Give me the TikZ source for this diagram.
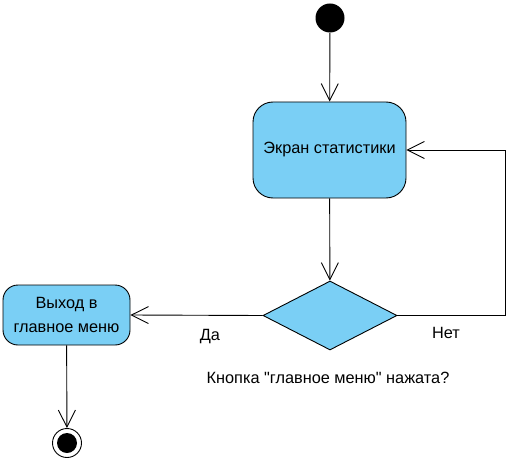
\documentclass[tikz,border=0pt]{standalone}
\usepackage{fontspec}
\setmainfont[Ligatures=TeXOff]{Liberation Sans}
\usetikzlibrary{shapes.geometric,arrows.meta}
\definecolor{stfill}{RGB}{122,207,245}
\begin{document}
\begin{tikzpicture}[x=1pt,y=-1pt,
  every node/.style={font=\fontsize{16.3}{24}\selectfont},
  arr/.style={draw, line width=0.9pt, -{Straight Barb[length=17pt,width=17pt,line width=0.9pt]}},
  statebox/.style={draw, line width=0.9pt, fill=stfill, rounded corners=20pt, align=center, inner sep=0pt},
  decision/.style={draw, line width=0.9pt, fill=stfill, diamond, inner sep=0pt, minimum width=134pt, minimum height=69pt},
  lbl/.style={inner sep=0pt}
]
\useasboundingbox (0,0) rectangle (510,465);
\node[circle, fill=black, minimum size=29pt, inner sep=0pt] (start) at (330,18) {};
\node[statebox, minimum width=153pt, minimum height=96pt] (screen) at (329.5,150) {Экран статистики};
\node[decision] (dec) at (330,315.5) {};
\node[statebox, rounded corners=15pt, minimum width=127pt, minimum height=60pt] (exit) at (66.5,315) {Выход в\\главное меню};
\node[circle, draw, line width=0.9pt, minimum size=29pt, inner sep=0pt] (final) at (67,443) {};
\node[circle, fill=black, minimum size=20pt, inner sep=0pt] (finaldot) at (final.center) {};
\coordinate (rt) at (505,150);
\node[lbl] (yes) at (210,337) {Да};
\node[lbl] (no) at (446,333) {Нет};
\node[lbl] (cond) at (328,378) {Кнопка "главное меню" нажата?};
\draw[arr] (start) -- (screen);
\draw[arr] (screen) -- (dec);
\draw[arr] (dec.east) -| (rt) -- (screen.east);
\draw[arr] (dec.west) -- (exit.east);
\draw[arr] (exit) -- (final);
\end{tikzpicture}
\end{document}
